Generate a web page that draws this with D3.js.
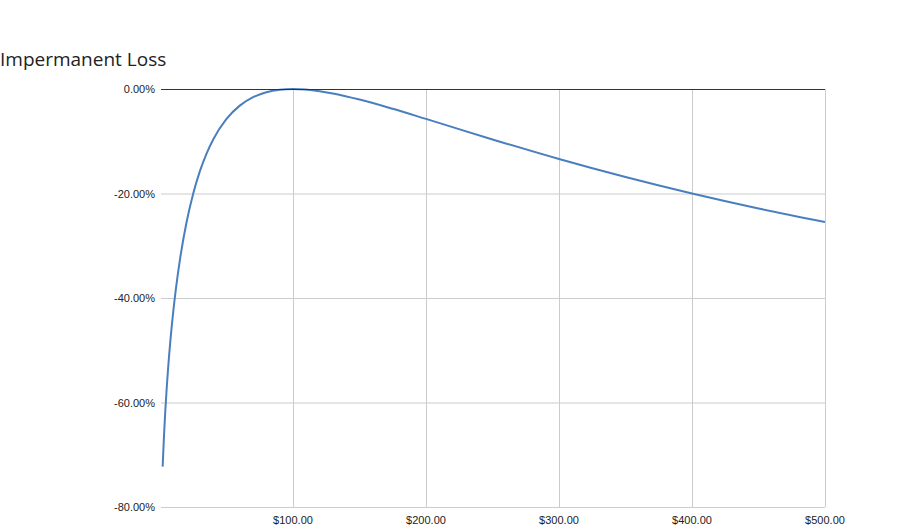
<!DOCTYPE html>
<html><head><meta charset="utf-8">
<script src="https://cdn.jsdelivr.net/npm/d3@7"></script>
<style>body{margin:0;background:#fff}</style>
</head><body>
<svg id="c" width="907" height="531"></svg>
<script>
const title = "Impermanent Loss";
const prices = [2,3,4,5,6,8,10,12,15,20,25,30,35,40,50,60,70,80,90,100,120,130,150,175,200,250,300,350,400,450,500];
const lossPct = [-72.27,-66.37,-61.54,-57.41,-53.78,-47.62,-42.50,-38.14,-32.64,-25.46,-20.00,-15.73,-12.36,-9.65,-5.72,-3.18,-1.57,-0.62,-0.14,0,-0.41,-0.85,-2.02,-3.79,-5.72,-9.65,-13.40,-16.85,-20.00,-22.86,-25.46];
const xTicks = [100,200,300,400,500];
const yTicks = [0,-20,-40,-60,-80];

const svg = d3.select("#c");
const x = d3.scaleLinear().domain([0,500]).range([160,825]);
const y = d3.scaleLinear().domain([-80,0]).range([507,89]);
const fmt = v => d3.format(".2f")(v).replace("\u2212","-");

svg.append("text").attr("x",0).attr("y",66).text(title)
  .attr("font-family","'Open Sans', 'Noto Sans', sans-serif").attr("font-size",19).attr("fill","#222");

// horizontal gridlines
svg.append("g").selectAll("line").data(yTicks.filter(d=>d!==0)).join("line")
  .attr("x1",161).attr("x2",825).attr("y1",d=>y(d)+0.5).attr("y2",d=>y(d)+0.5)
  .attr("stroke","#cccccc").attr("stroke-width",1);
// vertical gridlines
svg.append("g").selectAll("line").data(xTicks).join("line")
  .attr("x1",d=>Math.round(x(d))+0.5).attr("x2",d=>Math.round(x(d))+0.5).attr("y1",89).attr("y2",507)
  .attr("stroke","#cccccc").attr("stroke-width",1);

// y labels
svg.append("g").selectAll("text").data(yTicks).join("text")
  .attr("x",155).attr("y",d=>y(d)+4).attr("text-anchor","end")
  .attr("font-family","'Liberation Sans', Arial, sans-serif").attr("font-size",11).attr("fill","#222")
  .text(d=>fmt(d)+"%");
// x labels
svg.append("g").selectAll("text").data(xTicks).join("text")
  .attr("x",d=>x(d)).attr("y",524).attr("text-anchor","middle")
  .attr("font-family","'Liberation Sans', Arial, sans-serif").attr("font-size",11).attr("fill","#222")
  .text(d=>"$"+fmt(d));

// line
const line = d3.line().x((d,i)=>x(prices[i])).y(d=>y(d)).curve(d3.curveMonotoneX);
svg.append("path").datum(lossPct).attr("d",line).attr("fill","none")
  .attr("stroke","#4a7fbf").attr("stroke-width",2);

// zero line
svg.append("line").attr("x1",161).attr("x2",825).attr("y1",y(0)+0.5).attr("y2",y(0)+0.5)
  .attr("stroke","#333").attr("stroke-width",1);
</script>
</body></html>
